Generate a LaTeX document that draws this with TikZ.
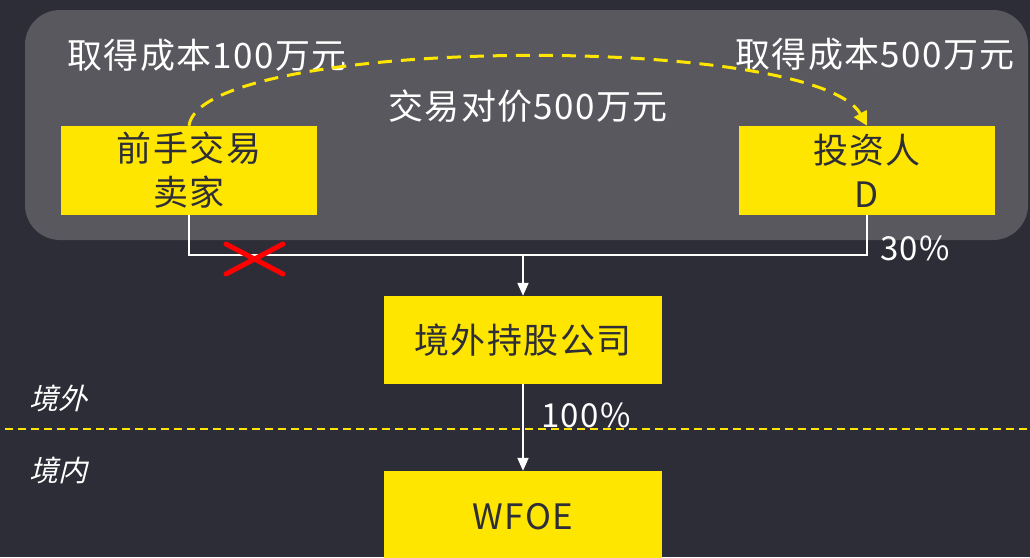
\documentclass[tikz,border=0pt]{standalone}
\usepackage{fontspec}
\setmainfont{Noto Sans CJK SC}[LetterSpace=4]
\newfontfamily\slantcjk[FakeSlant=0.25]{Noto Sans CJK SC}
\usetikzlibrary{positioning,arrows.meta}
\tikzset{>=stealth}
\definecolor{bgdark}{RGB}{45,45,55}
\definecolor{panelgray}{RGB}{88,88,94}
\definecolor{eyyellow}{RGB}{255,230,0}
\definecolor{boxtext}{RGB}{46,46,56}
\tikzset{
  entity/.style={fill=eyyellow,text=boxtext,minimum width=256pt,minimum height=89pt,
    inner sep=0pt,align=center,font=\fontsize{35}{44}\selectfont},
  lbl/.style={text=white,inner sep=0pt,font=\fontsize{35}{40}\selectfont},
  owns/.style={white,line width=2pt},
  flow/.style={eyyellow,line width=3pt,dash pattern=on 14pt off 9pt}
}

\begin{document}
\begin{tikzpicture}[x=1pt,y=-1pt]
% Background and panel
\fill[bgdark] (0,0) rectangle (1030,557);
\useasboundingbox (0,0) rectangle (1030,557);
\fill[panelgray,rounded corners=35pt] (25,10) rectangle (1028,240);

% Border line between offshore and onshore
\draw[eyyellow,line width=2pt,dash pattern=on 8pt off 5pt] (5,429) -- (1030,429);
\node[lbl,font=\fontsize{29}{32}\selectfont\slantcjk] (out) at (58,398) {境外};
\node[lbl,font=\fontsize{29}{32}\selectfont\slantcjk] (in) at (58,470) {境内};

% Entities
\node[entity] (seller) at (189,170.5) {前手交易\\卖家};
\node[entity] (investor) at (867,170.5) {投资人\\D};
\node[entity,minimum width=278pt,minimum height=88pt] (holding) at (523,340) {境外持股公司};
\node[entity,minimum width=278pt,minimum height=92pt] (wfoe) at (523,517) {WFOE};

% Labels
\node[lbl] (cost1) at (207,55) {取得成本100万元};
\node[lbl] (cost2) at (875,54) {取得成本500万元};
\node[lbl] (price) at (528,106) {交易对价500万元};
\node[lbl,font=\fontsize{33}{36}\selectfont] (pct1) at (915,248) {30\%};
\node[lbl,font=\fontsize{33}{36}\selectfont] (pct2) at (586,415) {100\%};

% Transfer of shares
\draw[flow,-{Triangle[length=14pt,width=14pt]}] (seller.north)
  .. controls (200,36) and (815,32) .. (investor.north);

% Shareholding lines
\coordinate (bus) at (523,255);
\draw[owns] (seller.south) -- (seller.south |- bus) -- (investor.south |- bus)
  -- (investor.south);
\draw[owns,-{Triangle[length=13pt,width=11pt]}] (bus) -- (holding.north);
\draw[owns,-{Triangle[length=13pt,width=11pt]}] (holding.south) -- (wfoe.north);

% Cross on the seller's stake
\draw[red,line width=5pt,line cap=round] (226,244) -- (283,274);
\draw[red,line width=5pt,line cap=round] (226,274) -- (283,244);
\end{tikzpicture}
\end{document}
